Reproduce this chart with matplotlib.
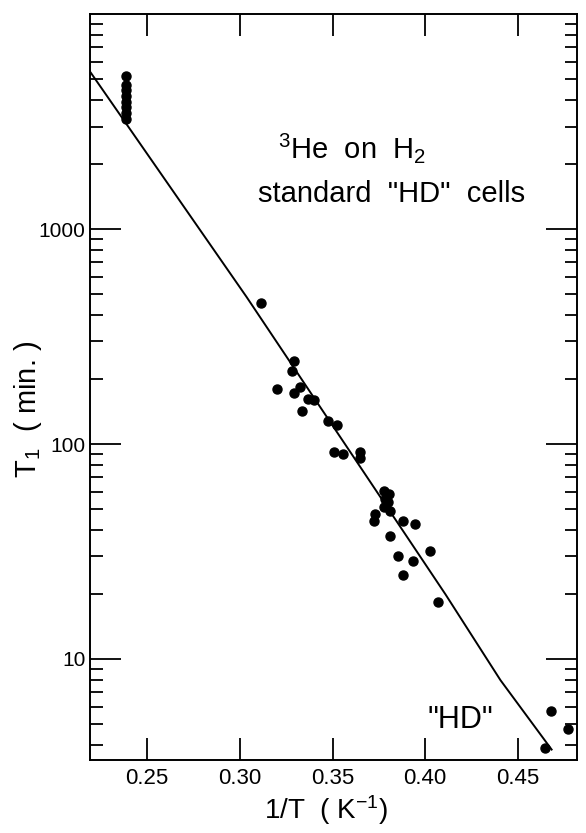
import matplotlib
matplotlib.use('Agg')
import matplotlib.pyplot as plt
from matplotlib.ticker import LogLocator, FixedLocator, NullFormatter

plt.rcParams['font.family'] = ['Liberation Sans', 'DejaVu Sans']
plt.rcParams['mathtext.fontset'] = 'custom'
plt.rcParams['mathtext.rm'] = 'Liberation Sans'
plt.rcParams['mathtext.it'] = 'Liberation Sans'

# 1/T (K^-1) and T1 (min.)
cluster_x = [0.2385] * 8
cluster_y = [5160, 4690, 4450, 4140, 3900, 3715, 3460, 3255]

inv_t = [0.3114, 0.3294, 0.3281, 0.3202, 0.3326, 0.3294, 0.3369, 0.3400,
         0.3338, 0.3478, 0.3526, 0.3509, 0.3557, 0.3650, 0.3649, 0.3778,
         0.3806, 0.3785, 0.3800, 0.3776, 0.3812, 0.3727, 0.3726, 0.3878,
         0.3943, 0.3811, 0.4026, 0.3855, 0.3932, 0.3879, 0.4071, 0.4680,
         0.4773, 0.4644]
t1 = [452, 243, 218, 180, 184, 173, 162, 160,
      142, 128, 122, 92.3, 89.6, 91.9, 86.4, 60.7,
      58.7, 55.6, 53.6, 50.8, 48.6, 47.2, 43.9, 43.7,
      42.6, 37.2, 31.8, 30.0, 28.6, 24.7, 18.5, 5.75,
      4.74, 3.87]

# drawn curve
fit_x = [0.2191, 0.3036, 0.4110, 0.4406, 0.4682]
fit_y = [5420, 484, 19.95, 7.97, 3.79]

xticks = [0.25, 0.30, 0.35, 0.40, 0.45]
xlabels = ['0.25', '0.30', '0.35', '0.40', '0.45']
yticks = [10, 100, 1000]
ylabels = ['10', '100', '1000']

fig = plt.figure(figsize=(5.86, 8.33), dpi=100)
ax = fig.add_axes([0.153, 0.088, 0.832, 0.895])

ax.plot(fit_x, fit_y, color='k', lw=1.4)
ax.plot(cluster_x, cluster_y, 'o', color='k', ms=6.5)
ax.plot(inv_t, t1, 'o', color='k', ms=6.5)

ax.set_yscale('log')
ax.set_xlim(0.219, 0.482)
ax.set_ylim(3.4, 10000)

ax.xaxis.set_major_locator(FixedLocator(xticks))
ax.set_xticklabels(xlabels)
ax.yaxis.set_major_locator(FixedLocator(yticks))
ax.set_yticklabels(ylabels)
ax.yaxis.set_minor_locator(LogLocator(base=10, subs=range(2, 10)))
ax.yaxis.set_minor_formatter(NullFormatter())

ax.tick_params(axis='x', which='major', direction='in', top=True,
               length=16, width=1.3, labelsize=16, pad=6)
ax.tick_params(axis='y', which='major', direction='in', right=True,
               length=22, width=1.3, labelsize=15, pad=3)
ax.tick_params(axis='y', which='minor', direction='in', right=True,
               length=9, width=1.3)
for s in ax.spines.values():
    s.set_linewidth(1.4)

fig.text(0.556, 0.028, r'1/T  ( K$^{-1}$)', fontsize=20, ha='center', va='center')
fig.text(0.048, 0.508, r'T$_1$  ( min. )', fontsize=21, ha='center', va='center',
         rotation=90)

fig.text(0.474, 0.810, r'$^3$He  on  H$_2$', fontsize=21, ha='left', va='baseline')
fig.text(0.440, 0.758, 'standard  "HD"  cells', fontsize=21, ha='left', va='baseline')
fig.text(0.730, 0.126, '"HD"', fontsize=22, ha='left', va='baseline')

fig.savefig('out.png', dpi=100)
